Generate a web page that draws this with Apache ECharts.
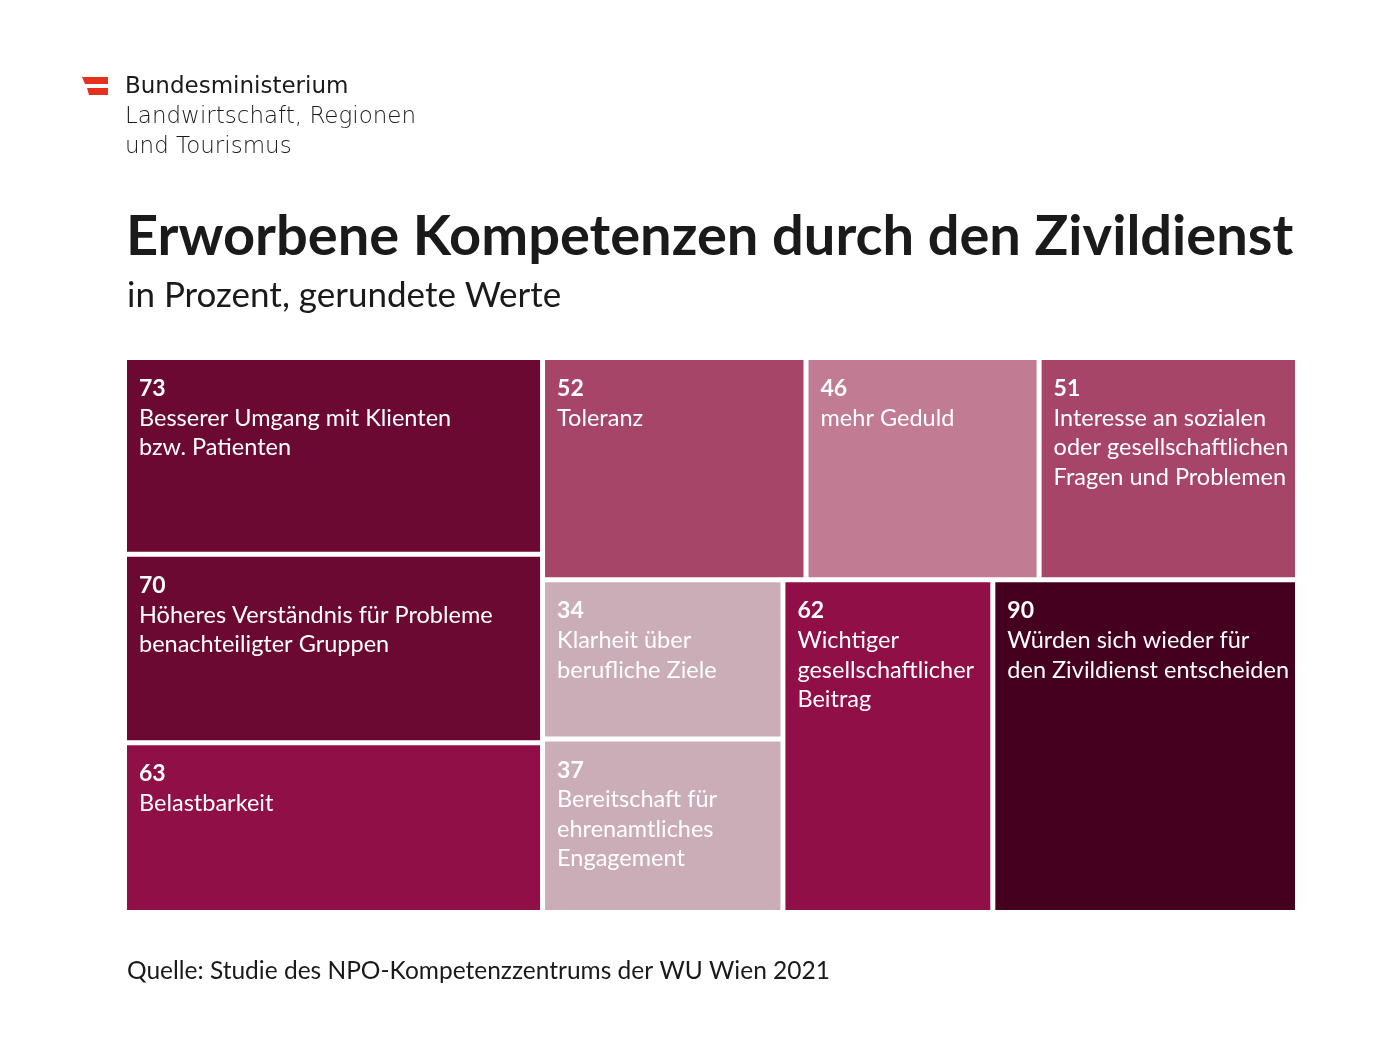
<!DOCTYPE html>
<html>
<head>
<meta charset="utf-8">
<script src="https://cdn.jsdelivr.net/npm/echarts@6/dist/echarts.min.js"></script>
<style>
html,body{margin:0;padding:0;background:#fff;}
#main{width:1400px;height:1050px;}
</style>
</head>
<body>
<div id="main"></div>
<script>
// ---- data ----
const values = [73, 70, 63, 52, 46, 51, 34, 37, 62, 90];
const labels = [
  'Besserer Umgang mit Klienten\nbzw. Patienten',
  'Höheres Verständnis für Probleme\nbenachteiligter Gruppen',
  'Belastbarkeit',
  'Toleranz',
  'mehr Geduld',
  'Interesse an sozialen\noder gesellschaftlichen\nFragen und Problemen',
  'Klarheit über\nberufliche Ziele',
  'Bereitschaft für\nehrenamtliches\nEngagement',
  'Wichtiger\ngesellschaftlicher\nBeitrag',
  'Würden sich wieder für\nden Zivildienst entscheiden'
];
const colors = ['#6B0933', '#6B0933', '#8F0F46', '#A64567', '#C17B92', '#A64567', '#CBADB8', '#CBADB8', '#8F0F46', '#46001F'];
// grouping of the cells (slice directions); leaves are indices into values
const layoutTree = {dir: 'x', children: [
  {dir: 'y', children: [0, 1, 2]},
  {dir: 'y', children: [
    {dir: 'x', children: [3, 4, 5]},
    {dir: 'x', children: [{dir: 'y', children: [6, 7]}, 8, 9]}
  ]}
]};

function sumNode(n) {
  return typeof n === 'number' ? values[n] : n.children.reduce((s, c) => s + sumNode(c), 0);
}
const cells = [];
function place(n, x0, y0, x1, y1) {
  if (typeof n === 'number') { cells.push([x0, y0, x1, y1, values[n], n]); return; }
  const total = sumNode(n);
  let acc = 0;
  n.children.forEach(c => {
    const a = acc / total, b = (acc + sumNode(c)) / total;
    acc += sumNode(c);
    if (n.dir === 'x') place(c, x0 + (x1 - x0) * a, y0, x0 + (x1 - x0) * b, y1);
    else place(c, x0, y0 + (y1 - y0) * a, x1, y0 + (y1 - y0) * b);
  });
}
place(layoutTree, 0, 0, 1, 1);

const FONT = 'Lato, "Open Sans", sans-serif';
const HFONT = '"DejaVu Sans", sans-serif';
const chart = echarts.init(document.getElementById('main'));
const gap = 2.5;
chart.setOption({
  backgroundColor: '#ffffff',
  animation: false,
  title: [
    {text: 'Erworbene Kompetenzen durch den Zivildienst', left: 121, top: 204,
     textStyle: {fontFamily: FONT, fontWeight: 'bold', fontSize: 56, color: '#1a1a1a'}},
    {text: 'in Prozent, gerundete Werte', left: 122, top: 273,
     textStyle: {fontFamily: FONT, fontWeight: 'normal', fontSize: 35, color: '#1a1a1a'}},
    {text: 'Quelle: Studie des NPO-Kompetenzzentrums der WU Wien 2021', left: 122, top: 954,
     textStyle: {fontFamily: FONT, fontWeight: 'normal', fontSize: 24.5, color: '#1a1a1a'}}
  ],
  graphic: [
    {type: 'polygon', shape: {points: [[82, 77], [108, 77], [108, 84], [85, 84]]}, style: {fill: '#E5321E'}},
    {type: 'polygon', shape: {points: [[87, 88], [108, 88], [108, 95], [89, 95]]}, style: {fill: '#E5321E'}},
    {type: 'text', left: 125, top: 76, style: {text: 'Bundesministerium', font: '500 23px ' + HFONT, fill: '#1a1a1a'}},
    {type: 'text', left: 125, top: 106, style: {text: 'Landwirtschaft, Regionen', font: '200 23px ' + HFONT, fill: '#1a1a1a'}},
    {type: 'text', left: 125, top: 136, style: {text: 'und Tourismus', font: '200 23px ' + HFONT, fill: '#1a1a1a'}}
  ],
  grid: {left: 124.5, right: 102.5, top: 357.5, bottom: 137.5},
  xAxis: {type: 'value', min: 0, max: 1, show: false},
  yAxis: {type: 'value', min: 0, max: 1, inverse: true, show: false},
  series: [{
    type: 'custom',
    data: cells,
    encode: {x: [0, 2], y: [1, 3]},
    renderItem: function (params, api) {
      const p0 = api.coord([api.value(0), api.value(1)]);
      const p1 = api.coord([api.value(2), api.value(3)]);
      const idx = api.value(5);
      const x = Math.min(p0[0], p1[0]) + gap, y = Math.min(p0[1], p1[1]) + gap;
      const w = Math.abs(p1[0] - p0[0]) - 2 * gap, h = Math.abs(p1[1] - p0[1]) - 2 * gap;
      return {
        type: 'group',
        children: [
          {type: 'rect', shape: {x: x, y: y, width: w, height: h}, style: {fill: colors[idx]}},
          {type: 'text', x: x + 12, y: y + 14, style: {
            text: '{n|' + api.value(4) + '}\n' + labels[idx].split('\n').map(s => '{t|' + s + '}').join('\n'),
            rich: {
              n: {fontFamily: FONT, fontWeight: 'bold', fontSize: 23, lineHeight: 29.5, fill: '#ffffff'},
              t: {fontFamily: FONT, fontWeight: 'normal', fontSize: 23.5, lineHeight: 29.5, fill: '#ffffff'}
            }
          }}
        ]
      };
    }
  }]
});
</script>
</body>
</html>
